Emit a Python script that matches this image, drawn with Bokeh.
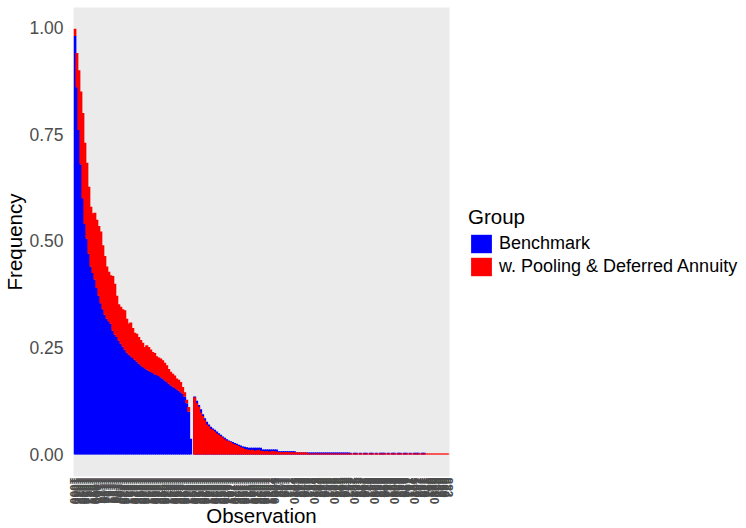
import numpy as np
from bokeh.plotting import figure
from bokeh.layouts import row
from bokeh.models import (ColumnDataSource, FactorRange, Range1d, FixedTicker,
                          NumeralTickFormatter, Legend, LegendItem)
from bokeh.embed import file_html
from bokeh.resources import INLINE

# ---- data ----
benchmark = (
    [0.98, 0.86, 0.76, 0.68, 0.60, 0.54, 0.505, 0.47, 0.44, 0.425,
     0.41, 0.39, 0.372, 0.354, 0.34, 0.327, 0.318, 0.312, 0.306, 0.29,
     0.281, 0.275, 0.267, 0.26, 0.253, 0.246, 0.239, 0.234, 0.23, 0.226,
     0.222, 0.218, 0.213, 0.209, 0.205, 0.202, 0.199, 0.196, 0.193, 0.191,
     0.188, 0.186, 0.184, 0.181, 0.178, 0.174, 0.170, 0.166, 0.162, 0.159,
     0.156, 0.153, 0.150, 0.146, 0.142, 0.135, 0.120, 0.100, 0.037, 0.0]
    + [0.136, 0.126, 0.116, 0.106, 0.094, 0.085, 0.077, 0.070, 0.065, 0.061,
       0.058, 0.054, 0.050, 0.046, 0.042, 0.039, 0.036, 0.033, 0.031, 0.029,
       0.027, 0.025, 0.023, 0.021, 0.019, 0.018, 0.017, 0.0157]
    + [0.0157] * 6
    + [0.0117] * 8
    + [0.0078] * 9
    + [0.0047] * 6
    + [0.0047] * 21
    + [0.004, 0.0, 0.004, 0.004, 0.0, 0.004, 0.0, 0.004, 0.004, 0.0,
       0.004, 0.004, 0.0, 0.004, 0.0, 0.004, 0.004, 0.004, 0.0, 0.004,
       0.0, 0.004, 0.004, 0.0, 0.004, 0.004, 0.0, 0.004, 0.004, 0.0,
       0.004, 0.0, 0.004, 0.004, 0.004, 0.0, 0.004, 0.004]
    + [0.0] * 12
)

pooling = (
    [0.997, 0.94, 0.90, 0.85, 0.80, 0.73, 0.683, 0.627, 0.58, 0.565,
     0.566, 0.55, 0.535, 0.522, 0.49, 0.465, 0.44, 0.428, 0.42, 0.418,
     0.40, 0.372, 0.352, 0.346, 0.340, 0.338, 0.318, 0.307, 0.309, 0.296,
     0.285, 0.283, 0.275, 0.268, 0.262, 0.252, 0.256, 0.252, 0.246, 0.240,
     0.238, 0.230, 0.227, 0.225, 0.221, 0.215, 0.209, 0.200, 0.194, 0.189,
     0.185, 0.178, 0.175, 0.170, 0.158, 0.146, 0.128, 0.111, 0.0, 0.0]
    + [0.134, 0.120, 0.112, 0.098, 0.090, 0.080, 0.070, 0.066, 0.060, 0.058,
       0.054, 0.049, 0.046, 0.043, 0.040, 0.036, 0.033, 0.031, 0.029, 0.026,
       0.024, 0.022, 0.020, 0.017, 0.015, 0.013, 0.012, 0.011]
    + [0.010, 0.011, 0.009, 0.010, 0.011, 0.009]
    + [0.008, 0.007, 0.008, 0.007, 0.007, 0.008, 0.007, 0.007]
    + [0.005, 0.006, 0.005, 0.005, 0.006, 0.005, 0.005, 0.005, 0.005]
    + [0.0045] * 6
    + [0.0023] * 21
    + [0.0023] * 38
    + [0.0023] * 12
)

# category (observation) tick labels
obs_labels = ([str(1000 + 9 * k) for k in range(100)]
              + [str(5000 + k) if k % 10 == 0 else str(100 + 9 * k) for k in range(88)])

groups = ["Benchmark", "w. Pooling & Deferred Annuity"]
group_colors = ["#0000FF", "#FF0000"]
y_ticks = [0.0, 0.25, 0.5, 0.75, 1.0]

FONT = "Liberation Sans"

b = np.array(benchmark)
r = np.array(pooling)
# bars are overlaid (position = identity): the red bar shows above the blue one
# where it is taller, otherwise it covers the blue one from zero
pool_bottom = np.where(r > b, b, 0.0)

source = ColumnDataSource(dict(obs=obs_labels, benchmark=b, pooling=r,
                               pool_bottom=pool_bottom))

p = figure(frame_width=376, frame_height=469,
           output_backend="svg", toolbar_location=None,
           x_range=FactorRange(factors=obs_labels, range_padding=0.2,
                               range_padding_units="absolute"),
           y_range=Range1d(-0.0515, 1.0468),
           min_border_left=73, min_border_right=6, min_border_top=7,
           min_border_bottom=52)

rb = p.vbar(x="obs", top="benchmark", bottom=0, width=1.5, source=source,
            fill_color=group_colors[0], line_color=None)
rr = p.vbar(x="obs", top="pooling", bottom="pool_bottom", width=1.5, source=source,
            fill_color=group_colors[1], line_color=None)

p.background_fill_color = "#EBEBEB"
p.border_fill_color = "white"
p.outline_line_color = None
p.xgrid.visible = False
p.ygrid.visible = False

# y axis
p.yaxis.ticker = FixedTicker(ticks=y_ticks)
p.yaxis.formatter = NumeralTickFormatter(format="0.00")
p.yaxis.axis_label = "Frequency"
p.yaxis.major_label_text_font_size = "17.5px"
p.yaxis.major_label_standoff = 4

# x axis
p.xaxis.axis_label = "Observation"
p.xaxis.major_label_orientation = "vertical"
p.xaxis.major_label_text_font_size = "12px"
p.xaxis.major_label_text_font_style = "bold"
p.xaxis.major_label_standoff = -5
p.xaxis.axis_label_standoff = -3

for ax in (p.xaxis[0], p.yaxis[0]):
    ax.axis_line_color = None
    ax.major_tick_line_color = None
    ax.minor_tick_line_color = None
    ax.major_label_text_color = "#4D4D4D"
    ax.major_label_text_font = FONT
    ax.axis_label_text_font = FONT
    ax.axis_label_text_font_style = "normal"
    ax.axis_label_text_color = "black"
    ax.axis_label_text_font_size = "20.5px"
p.yaxis.axis_label_standoff = 0

# ---- legend panel (right of the plot) ----
lf = figure(width=291, height=528, output_backend="svg", toolbar_location=None,
            x_range=Range1d(0, 1), y_range=Range1d(0, 1),
            min_border=0, outline_line_color=None)
lf.xaxis.visible = False
lf.yaxis.visible = False
lf.xgrid.visible = False
lf.ygrid.visible = False
# zero-height key bars: they only provide the legend swatches
key_src = ColumnDataSource(dict(x=[0.5], top=[0.0]))
kb = lf.vbar(x="x", top="top", bottom=0, width=0, source=key_src,
             fill_color=group_colors[0], line_color=None)
kr = lf.vbar(x="x", top="top", bottom=0, width=0, source=key_src,
             fill_color=group_colors[1], line_color=None)

legend = Legend(items=[LegendItem(label=groups[0], renderers=[kb]),
                       LegendItem(label=groups[1], renderers=[kr])],
                title="Group", location=(13, 196.5), orientation="vertical",
                title_text_font=FONT, title_text_font_size="20.5px",
                title_text_font_style="normal", title_text_color="black",
                label_text_font=FONT, label_text_font_size="18px",
                label_text_color="black",
                glyph_width=26, glyph_height=23, label_height=23,
                label_standoff=5, spacing=0, padding=0, margin=0,
                title_standoff=3,
                border_line_color=None, background_fill_color=None)
lf.add_layout(legend, "center")

layout = row(p, lf, spacing=0)
open("out.html", "w").write(file_html(layout, INLINE))
